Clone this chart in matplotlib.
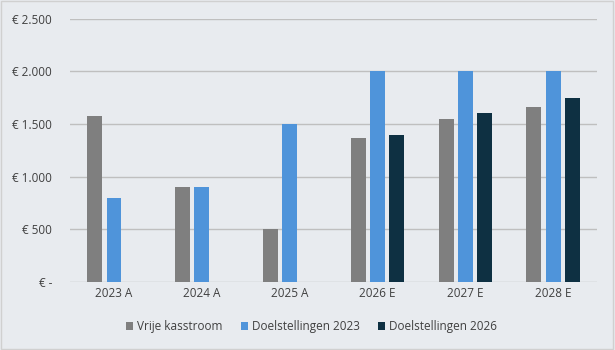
import matplotlib.pyplot as plt
import numpy as np
from matplotlib.ticker import FuncFormatter

jaren = ['2023 A', '2024 A', '2025 A', '2026 E', '2027 E', '2028 E']
vrije_kasstroom = [1580, 900, 500, 1370, 1545, 1660]
doel_2023 = [800, 900, 1500, 2000, 2000, 2000]
doel_2026 = [np.nan, np.nan, np.nan, 1400, 1600, 1750]

plt.rcParams['font.family'] = ['Open Sans', 'DejaVu Sans']

bg = '#E8EBEF'
fig = plt.figure(figsize=(6.15, 3.5), dpi=100, facecolor=bg)
ax = fig.add_axes([0.114, 0.194, 0.857, 0.753])
ax.set_facecolor(bg)

x = np.arange(len(jaren))
w = 0.17
ax.bar(x - 0.22, vrije_kasstroom, w, color='#7F7F7F', label='Vrije kasstroom', zorder=3)
ax.bar(x, doel_2023, w, color='#4F94DA', label='Doelstellingen 2023', zorder=3)
ax.bar(x + 0.22, doel_2026, w, color='#0E3042', label='Doelstellingen 2026', zorder=3)

ax.set_xlim(-0.5, len(jaren) - 0.5)
ax.set_ylim(0, 2500)
ax.set_yticks(range(0, 2501, 500))
ax.set_xticks(x)
ax.set_xticklabels(jaren)


def euro(v, pos):
    if v == 0:
        return '€ -'
    return '€ ' + f'{int(v):,}'.replace(',', '.')


ax.yaxis.set_major_formatter(FuncFormatter(euro))
ax.grid(axis='y', color='#BFBFBF', linewidth=1, zorder=0)
ax.tick_params(length=0, labelsize=8.5, labelcolor='#404040')
ax.tick_params(axis='y', pad=13)
for s in ax.spines.values():
    s.set_visible(False)

ax.legend(loc='upper center', bbox_to_anchor=(0.458, -0.105), ncol=3, frameon=False,
          fontsize=8.5, handlelength=0.6, handleheight=0.6, handletextpad=0.3,
          columnspacing=1.6, labelcolor='#404040')

fig.patches.append(plt.Rectangle((0.002, 0.003), 0.995, 0.993, transform=fig.transFigure,
                                 fill=False, edgecolor='#D0D0D0', linewidth=1))

fig.savefig('out.png', dpi=100, facecolor=bg)
